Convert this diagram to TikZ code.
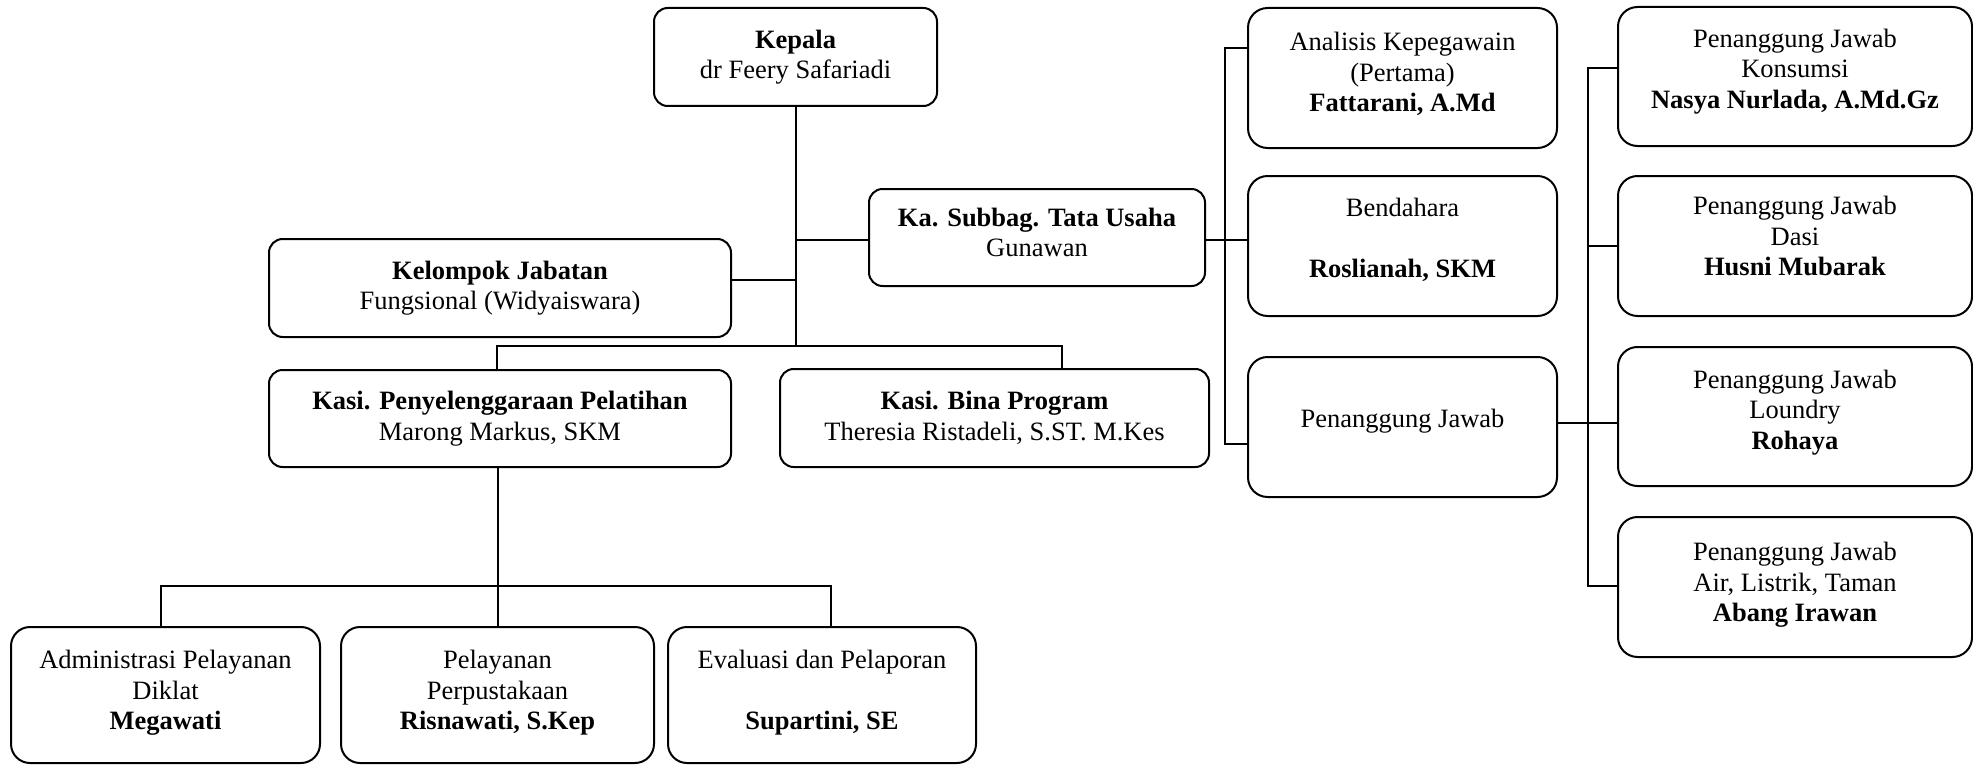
\documentclass[tikz,border=0pt]{standalone}
\usepackage{fontspec}
\setmainfont{Liberation Serif}
\newcommand{\uptext}[2]{\raisebox{#1}[\height][\depth]{\begin{tabular}{@{}c@{}}#2\end{tabular}}}
\begin{document}
\begin{tikzpicture}[x=0.5pt,y=-0.5pt,line width=1pt,
  every node/.style={font=\fontsize{13.25}{15.3}\selectfont,align=center},
  bx/.style 2 args={draw,rounded corners=#2*0.07pt,inner sep=0pt,
    minimum width=#1*0.5pt,minimum height=#2*0.5pt}]
\useasboundingbox (0,0) rectangle (1973,765);
% top / middle
\node[bx={283}{98}] (kepala) at (795.5,57) {\textbf{Kepala}\\dr Feery Safariadi};
\node[bx={336}{97}] (subbag) at (1037,237.5) {\uptext{1pt}{\textbf{Ka. Subbag. Tata Usaha}\\Gunawan}};
\node[bx={462}{98}] (kelompok) at (500,288) {\textbf{Kelompok Jabatan}\\Fungsional (Widyaiswara)};
\node[bx={462}{97}] (kasipp) at (500,418.5) {\textbf{Kasi. Penyelenggaraan Pelatihan}\\Marong Markus, SKM};
\node[bx={429}{98}] (kasibina) at (994.5,418) {\textbf{Kasi. Bina Program}\\Theresia Ristadeli, S.ST. M.Kes};
% subbag column
\node[bx={309}{140}] (analisis) at (1402.5,78) {\uptext{1.5pt}{Analisis Kepegawain\\(Pertama)\\\textbf{Fattarani, A.Md}}};
\node[bx={309}{140}] (bendahara) at (1402.5,246) {\uptext{2.5pt}{Bendahara\\ \\\textbf{Roslianah, SKM}}};
\node[bx={309}{140}] (pj) at (1402.5,427) {\uptext{3pt}{Penanggung Jawab}};
% right column
\node[bx={354}{139}] (konsumsi) at (1795,76.5) {\uptext{2.5pt}{Penanggung Jawab\\Konsumsi\\\textbf{Nasya Nurlada, A.Md.Gz}}};
\node[bx={354}{140}] (dasi) at (1795,246) {\uptext{3.5pt}{Penanggung Jawab\\Dasi\\\textbf{Husni Mubarak}}};
\node[bx={354}{139}] (loundry) at (1795,416.5) {\uptext{2pt}{Penanggung Jawab\\Loundry\\\textbf{Rohaya}}};
\node[bx={354}{140}] (air) at (1795,587) {\uptext{1pt}{Penanggung Jawab\\Air, Listrik, Taman\\\textbf{Abang Irawan}}};
% bottom row
\node[bx={309}{136}] (admin) at (165.5,695) {\uptext{1pt}{Administrasi Pelayanan\\Diklat\\\textbf{Megawati}}};
\node[bx={313}{136}] (pelayanan) at (497.5,695) {\uptext{1pt}{Pelayanan\\Perpustakaan\\\textbf{Risnawati, S.Kep}}};
\node[bx={308}{136}] (evaluasi) at (822,695) {\uptext{1pt}{Evaluasi dan Pelaporan\\ \\\textbf{Supartini, SE}}};
% coordinates for buses
\coordinate (bl) at (497,346);
\coordinate (br) at (1062,346);
\coordinate (kj) at (796,280);
\coordinate (sj) at (796,240);
\coordinate (ra) at (1225,48);
\coordinate (rb) at (1225,444);
\coordinate (ca) at (1588,68);
\coordinate (cb) at (1588,586);
\coordinate (cl) at (1588,423);
\coordinate (db1) at (161,586);
\coordinate (db2) at (831,586);
% connectors
\draw (kepala.south) -- (kepala.south |- bl);
\draw (kj -| kelompok.east) -- (kj);
\draw (sj) -- (sj -| subbag.west);
\draw (kasipp.north -| bl) -- (bl) -- (br) -- (br |- kasibina.north);
\draw (ra -| analisis.west) -- (ra) -- (rb) -- (rb -| pj.west);
\draw (sj -| subbag.east) -- (sj -| bendahara.west);
\draw (ca -| konsumsi.west) -- (ca) -- (cb) -- (cb -| air.west);
\draw (dasi.west) -- (dasi.west -| ca);
\draw (cl -| pj.east) -- (cl -| loundry.west);
\draw (kasipp.south -| pelayanan.north) -- (pelayanan.north);
\draw (admin.north -| db1) -- (db1) -- (db2) -- (db2 |- evaluasi.north);
\end{tikzpicture}
\end{document}
